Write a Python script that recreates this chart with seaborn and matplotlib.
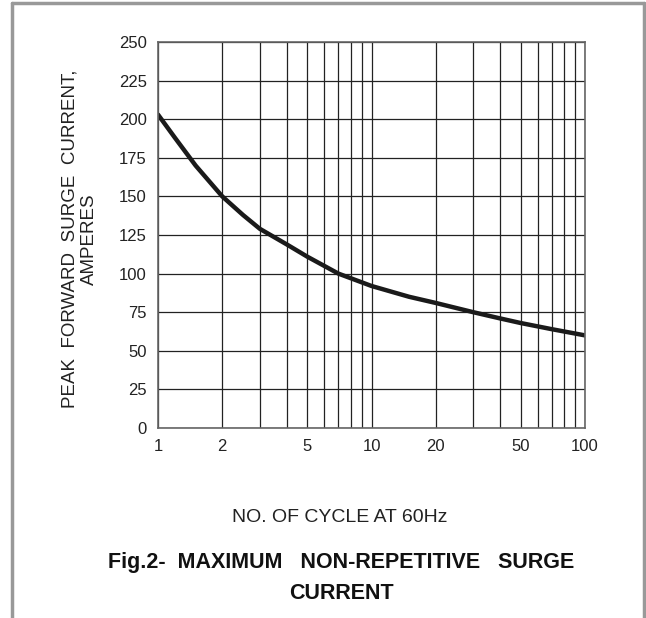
import matplotlib
matplotlib.use('Agg')
import matplotlib.pyplot as plt
from matplotlib.lines import Line2D
from matplotlib.ticker import FixedLocator, NullFormatter
import seaborn as sns
import pandas as pd

# values
cycles = [1, 1.2, 1.5, 2, 2.5, 3, 4, 5, 7, 10, 15, 20, 30, 40, 50, 70, 100]
surge_current = [203, 188, 170, 150, 138, 129, 119, 111, 100, 92, 85, 81, 75, 71, 68, 64, 60]

x_labels = [1, 2, 5, 10, 20, 50, 100]
x_minor = [3, 4, 6, 7, 8, 9, 30, 40, 60, 70, 80, 90]
y_ticks = [0, 25, 50, 75, 100, 125, 150, 175, 200, 225, 250]

sns.set_style('white')
plt.rcParams['font.family'] = ['Liberation Sans', 'DejaVu Sans']

df = pd.DataFrame({'cycles': cycles, 'current': surge_current})

fig = plt.figure(figsize=(6.46, 6.18), dpi=100)
ax = fig.add_axes([0.2446, 0.3074, 0.661, 0.6246])

sns.lineplot(data=df, x='cycles', y='current', color='#1a1a1a', linewidth=3.2, ax=ax)

ax.set_xscale('log')
ax.set_xlim(1, 100)
ax.set_ylim(0, 250)
ax.xaxis.set_major_locator(FixedLocator(x_labels))
ax.xaxis.set_minor_locator(FixedLocator(x_minor))
ax.xaxis.set_minor_formatter(NullFormatter())
ax.set_xticklabels([str(v) for v in x_labels])
ax.set_yticks(y_ticks)
ax.tick_params(axis='both', which='both', length=0, labelsize=12, colors='#222222')
ax.tick_params(axis='y', pad=8)
ax.tick_params(axis='x', pad=8)

ax.grid(True, which='both', color='#222222', linewidth=0.9)
for s in ax.spines.values():
    s.set_color('#666666')
    s.set_linewidth(1.2)

ax.set_xlabel('NO. OF CYCLE AT 60Hz', fontsize=14, color='#222222')
ax.xaxis.set_label_coords(0.426, -0.209)
ax.set_ylabel('PEAK  FORWARD  SURGE  CURRENT,\nAMPERES', fontsize=13.5,
              linespacing=1.15, color='#222222')
ax.yaxis.set_label_coords(-0.141, 0.49)

fig.text(0.528, 0.065, 'Fig.2-  MAXIMUM   NON-REPETITIVE   SURGE\nCURRENT', ha='center', va='center',
         fontsize=15.5, fontweight='bold', linespacing=1.6, color='#111111')

# gray frame around the picture
frame = dict(color='#999999', linewidth=2.5, transform=fig.transFigure)
fig.add_artist(Line2D([0.0186, 0.0186], [0, 0.995], **frame))
fig.add_artist(Line2D([0.0186, 0.997], [0.995, 0.995], **frame))
fig.add_artist(Line2D([0.997, 0.997], [0, 0.995], **frame))

fig.savefig('out.png', dpi=100)
